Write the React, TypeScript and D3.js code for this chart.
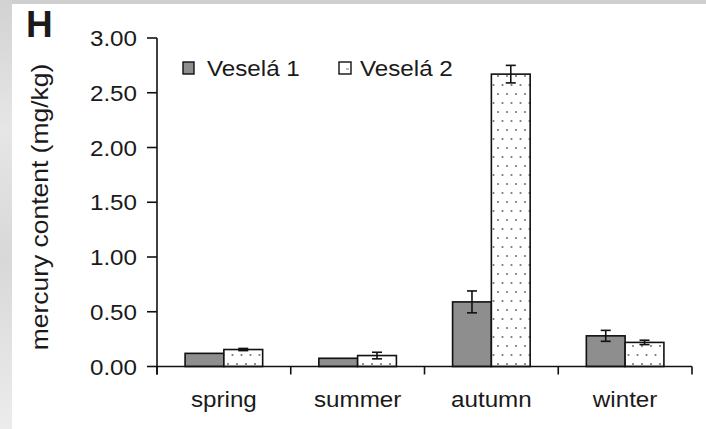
import React from "react";
import * as d3 from "d3";

const categories = ["spring", "summer", "autumn", "winter"];
const seriesNames = ["Veselá 1", "Veselá 2"];
const vesela1 = [0.12, 0.075, 0.59, 0.28];
const vesela1Err = [0.0, 0.0, 0.1, 0.05];
const vesela2 = [0.155, 0.1, 2.67, 0.22];
const vesela2Err = [0.01, 0.03, 0.08, 0.02];
const yTicks = [0, 0.5, 1, 1.5, 2, 2.5, 3];

const W = 706;
const H = 429;
const FONT = "'Liberation Sans', Arial, sans-serif";

export default function App() {
  const x0 = d3.scaleBand<string>().domain(categories).range([157, 692]).paddingInner(0).paddingOuter(0);
  const groupW = x0.bandwidth() * 0.58;
  const x1 = d3.scaleBand<string>().domain(seriesNames).range([0, groupW]).padding(0);
  const y = d3.scaleLinear().domain([0, 3]).range([366.5, 38]);
  const series = [
    { name: seriesNames[0], values: vesela1, errs: vesela1Err },
    { name: seriesNames[1], values: vesela2, errs: vesela2Err },
  ];
  const base = y(0);
  const txt = (
    x: number,
    yy: number,
    s: string,
    size: number,
    anchor: string,
    sx = 1.1,
    extra = "",
    weight = "normal"
  ) => (
    <text
      transform={`translate(${x},${yy}) ${extra} scale(${sx},1)`}
      fontFamily={FONT}
      fontSize={size}
      fontWeight={weight}
      textAnchor={anchor}
      fill="#1a1a1a"
    >
      {s}
    </text>
  );
  return (
    <svg width={W} height={H} style={{ position: "absolute", left: 0, top: 0 }}>
      <defs>
        <pattern id="dots" width="9" height="18" patternUnits="userSpaceOnUse">
          <rect width="9" height="18" fill="#fff" />
          <circle cx="3" cy="4" r="1.1" fill="#777" />
          <circle cx="7.5" cy="13" r="1.1" fill="#777" />
        </pattern>
        <linearGradient id="lg" x1="0" x2="0" y1="0" y2="1">
          <stop offset="0" stopColor="#d2d2d2" />
          <stop offset="0.3" stopColor="#e6e6e6" />
          <stop offset="0.6" stopColor="#d8d8d8" />
          <stop offset="1" stopColor="#ececec" />
        </linearGradient>
      </defs>
      <rect width={W} height={H} fill="#fff" />
      <rect x={0} y={0} width={W} height={4} fill="#cfcfcf" />
      <rect x={0} y={0} width={12} height={H} fill="url(#lg)" />

      {txt(26, 37, "H", 37, "start", 1, "", "bold")}
      {txt(48, 207, "mercury content (mg/kg)", 23, "middle", 1.15, "rotate(-90)")}

      {yTicks.map((t) => (
        <g key={t}>
          <line x1={147} x2={157} y1={y(t)} y2={y(t)} stroke="#111" strokeWidth={1.6} />
          {txt(137, y(t) + 8, t.toFixed(2), 22, "end")}
        </g>
      ))}

      {categories.map((c, i) => {
        const gx = (x0(c) as number) + (x0.bandwidth() - groupW) / 2;
        return (
          <g key={c}>
            {series.map((s, si) => {
              const bx = gx + (x1(s.name) as number);
              const bw = x1.bandwidth();
              const v = s.values[i];
              const e = s.errs[i];
              const cx = bx + bw / 2;
              return (
                <g key={s.name}>
                  <rect
                    x={bx}
                    y={y(v)}
                    width={bw}
                    height={base - y(v)}
                    fill={si === 0 ? "#8e8e8e" : "url(#dots)"}
                    stroke="#111"
                    strokeWidth={1.6}
                  />
                  {e > 0 && (
                    <g stroke="#111" strokeWidth={1.6}>
                      <line x1={cx} x2={cx} y1={y(v + e)} y2={y(v - e)} />
                      <line x1={cx - 5} x2={cx + 5} y1={y(v + e)} y2={y(v + e)} />
                      <line x1={cx - 5} x2={cx + 5} y1={y(v - e)} y2={y(v - e)} />
                    </g>
                  )}
                </g>
              );
            })}
            {txt((x0(c) as number) + x0.bandwidth() / 2, 407, c, 22, "middle")}
          </g>
        );
      })}

      <line x1={157} x2={157} y1={y(3)} y2={base + 8} stroke="#111" strokeWidth={1.6} />
      <line x1={157} x2={692} y1={base} y2={base} stroke="#111" strokeWidth={1.6} />
      {[...categories.map((c) => x0(c) as number), 692].map((tx, i) => (
        <line key={i} x1={tx} x2={tx} y1={base} y2={base + 8} stroke="#111" strokeWidth={1.6} />
      ))}

      <rect x={183} y={62} width={11} height={12} fill="#8e8e8e" stroke="#111" strokeWidth={1.4} />
      {txt(207, 76, seriesNames[0], 22, "start")}
      <rect x={339} y={62} width={12} height={12} fill="#fff" stroke="#111" strokeWidth={1.4} />
      <line x1={346} x2={349} y1={69} y2={69} stroke="#777" strokeWidth={1} />
      {txt(360, 76, seriesNames[1], 22, "start")}
    </svg>
  );
}
